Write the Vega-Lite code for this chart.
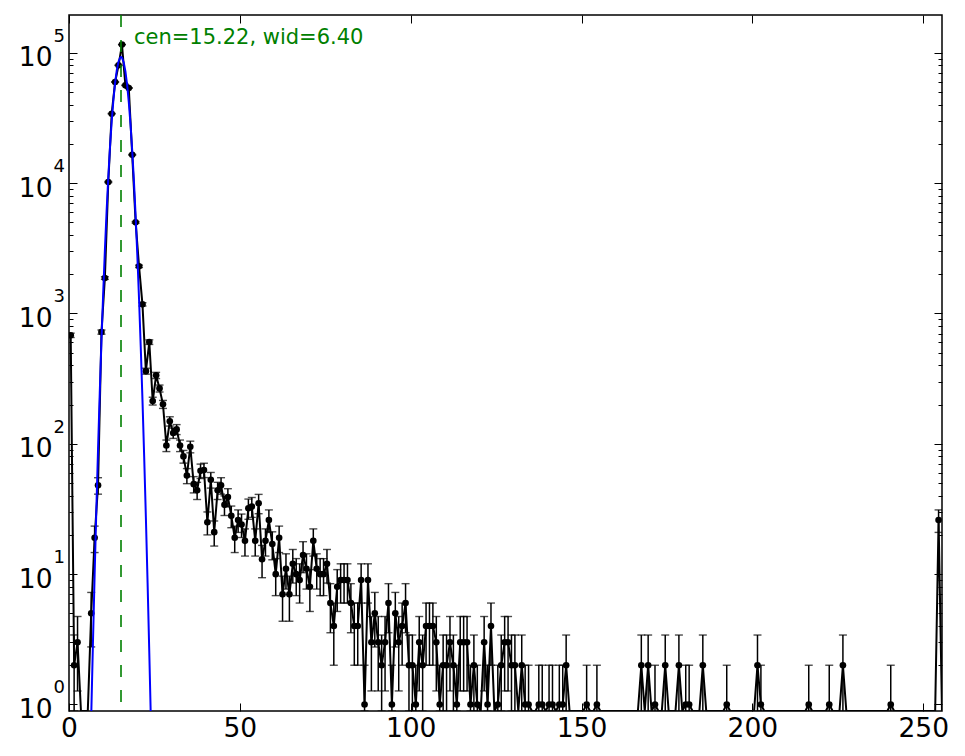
{
"$schema": "https://vega.github.io/schema/vega-lite/v6.json",
"autosize": {"type": "none"},
"padding": {"left": 69, "top": 15, "right": 23, "bottom": 45},
"width": 873,
"height": 696,
"background": "white",
"config": {"font": "DejaVu Sans", "view": {"stroke": "black", "strokeWidth": 1.5}, "axis": {"domain": false, "grid": false, "tickColor": "black", "tickWidth": 1, "labelColor": "black", "labelFont": "DejaVu Sans", "labelFontSize": 26.5, "title": null}},
"datasets": {
"counts": [
{"x":0.5,"y":680,"lo":653.92,"hi":706.08},{"x":1.5,"y":2,"lo":0.586,"hi":3.414},{"x":2.5,"y":3,"lo":1.268,"hi":4.732},{"x":3.5,"y":0},{"x":4.5,"y":0},{"x":5.5,"y":0},
{"x":6.5,"y":5,"lo":2.764,"hi":7.236},{"x":7.5,"y":19,"lo":14.641,"hi":23.359},{"x":8.5,"y":48,"lo":41.072,"hi":54.928},{"x":9.5,"y":720,"lo":693.17,"hi":746.83},
{"x":10.5,"y":1870,"lo":1826.76,"hi":1913.24},{"x":11.5,"y":10200,"lo":10099,"hi":10301},{"x":12.5,"y":34100,"lo":33915.3,"hi":34284.7},{"x":13.5,"y":59700,"lo":59455.7,"hi":59944.3},
{"x":14.5,"y":80200,"lo":79916.8,"hi":80483.2},{"x":15.5,"y":115600,"lo":115260,"hi":115940},{"x":16.5,"y":56300,"lo":56062.7,"hi":56537.3},{"x":17.5,"y":53700,"lo":53468.3,"hi":53931.7},
{"x":18.5,"y":16500,"lo":16371.5,"hi":16628.5},{"x":19.5,"y":5000,"lo":4929.3,"hi":5070.7},{"x":20.5,"y":2300,"lo":2252.04,"hi":2347.96},{"x":21.5,"y":1175,"lo":1140.72,"hi":1209.28},
{"x":22.5,"y":361,"lo":342,"hi":380},{"x":23.5,"y":603,"lo":578.44,"hi":627.56},{"x":24.5,"y":213,"lo":198.41,"hi":227.59},{"x":25.5,"y":335,"lo":316.7,"hi":353.3},
{"x":26.5,"y":266,"lo":249.69,"hi":282.31},{"x":27.5,"y":201,"lo":186.82,"hi":215.18},{"x":28.5,"y":97,"lo":87.15,"hi":106.85},{"x":29.5,"y":149,"lo":136.79,"hi":161.21},
{"x":30.5,"y":121,"lo":110,"hi":132},{"x":31.5,"y":129,"lo":117.64,"hi":140.36},{"x":32.5,"y":97,"lo":87.15,"hi":106.85},{"x":33.5,"y":80,"lo":71.06,"hi":88.94},
{"x":34.5,"y":57,"lo":49.45,"hi":64.55},{"x":35.5,"y":95,"lo":85.25,"hi":104.75},{"x":36.5,"y":49,"lo":42,"hi":56},{"x":37.5,"y":44,"lo":37.37,"hi":50.63},
{"x":38.5,"y":62,"lo":54.13,"hi":69.87},{"x":39.5,"y":63,"lo":55.06,"hi":70.94},{"x":40.5,"y":25,"lo":20,"hi":30},{"x":41.5,"y":53,"lo":45.72,"hi":60.28},
{"x":42.5,"y":21,"lo":16.42,"hi":25.58},{"x":43.5,"y":44,"lo":37.37,"hi":50.63},{"x":44.5,"y":48,"lo":41.07,"hi":54.93},{"x":45.5,"y":34,"lo":28.17,"hi":39.83},
{"x":46.5,"y":39,"lo":32.76,"hi":45.24},{"x":47.5,"y":28,"lo":22.71,"hi":33.29},{"x":48.5,"y":19,"lo":14.64,"hi":23.36},{"x":49.5,"y":26,"lo":20.9,"hi":31.1},
{"x":50.5,"y":24,"lo":19.1,"hi":28.9},{"x":51.5,"y":18,"lo":13.76,"hi":22.24},{"x":52.5,"y":32,"lo":26.34,"hi":37.66},{"x":53.5,"y":33,"lo":27.26,"hi":38.74},
{"x":54.5,"y":18,"lo":13.76,"hi":22.24},{"x":55.5,"y":35,"lo":29.08,"hi":40.92},{"x":56.5,"y":13,"lo":9.39,"hi":16.61},{"x":57.5,"y":18,"lo":13.76,"hi":22.24},
{"x":58.5,"y":26,"lo":20.9,"hi":31.1},{"x":59.5,"y":17,"lo":12.88,"hi":21.12},{"x":60.5,"y":10,"lo":6.84,"hi":13.16},{"x":61.5,"y":19,"lo":14.64,"hi":23.36},
{"x":62.5,"y":7,"lo":4.35,"hi":9.65},{"x":63.5,"y":11,"lo":7.68,"hi":14.32},{"x":64.5,"y":7,"lo":4.35,"hi":9.65},{"x":65.5,"y":12,"lo":8.54,"hi":15.46},
{"x":66.5,"y":10,"lo":6.84,"hi":13.16},{"x":67.5,"y":9,"lo":6,"hi":12},{"x":68.5,"y":14,"lo":10.26,"hi":17.74},{"x":69.5,"y":11,"lo":7.68,"hi":14.32},
{"x":70.5,"y":8,"lo":5.17,"hi":10.83},{"x":71.5,"y":18,"lo":13.76,"hi":22.24},{"x":72.5,"y":11,"lo":7.68,"hi":14.32},{"x":73.5,"y":10,"lo":6.84,"hi":13.16},
{"x":74.5,"y":10,"lo":6.84,"hi":13.16},{"x":75.5,"y":12,"lo":8.54,"hi":15.46},{"x":76.5,"y":6,"lo":3.55,"hi":8.45},{"x":77.5,"y":4,"lo":2,"hi":6},
{"x":78.5,"y":8,"lo":5.17,"hi":10.83},{"x":79.5,"y":9,"lo":6,"hi":12},{"x":80.5,"y":9,"lo":6,"hi":12},{"x":81.5,"y":9,"lo":6,"hi":12},
{"x":82.5,"y":6,"lo":3.55,"hi":8.45},{"x":83.5,"y":4,"lo":2,"hi":6},{"x":84.5,"y":4,"lo":2,"hi":6},{"x":85.5,"y":9,"lo":6,"hi":12},
{"x":86.5,"y":1,"lo":0,"hi":2},{"x":87.5,"y":9,"lo":6,"hi":12},{"x":88.5,"y":3,"lo":1.27,"hi":4.73},{"x":89.5,"y":5,"lo":2.76,"hi":7.24},
{"x":90.5,"y":3,"lo":1.27,"hi":4.73},{"x":91.5,"y":2,"lo":0.59,"hi":3.41},{"x":92.5,"y":3,"lo":1.27,"hi":4.73},{"x":93.5,"y":6,"lo":3.55,"hi":8.45},
{"x":94.5,"y":1,"lo":0,"hi":2},{"x":95.5,"y":5,"lo":2.76,"hi":7.24},{"x":96.5,"y":3,"lo":1.27,"hi":4.73},{"x":97.5,"y":4,"lo":2,"hi":6},
{"x":98.5,"y":6,"lo":3.55,"hi":8.45},{"x":99.5,"y":2,"lo":0.59,"hi":3.41},{"x":100.5,"y":2,"lo":0.59,"hi":3.41},{"x":101.5,"y":1,"lo":0,"hi":2},
{"x":102.5,"y":3,"lo":1.27,"hi":4.73},{"x":103.5,"y":2,"lo":0.59,"hi":3.41},{"x":104.5,"y":4,"lo":2,"hi":6},{"x":105.5,"y":4,"lo":2,"hi":6},
{"x":106.5,"y":4,"lo":2,"hi":6},{"x":107.5,"y":3,"lo":1.27,"hi":4.73},{"x":108.5,"y":1,"lo":0,"hi":2},{"x":109.5,"y":2,"lo":0.59,"hi":3.41},
{"x":110.5,"y":2,"lo":0.59,"hi":3.41},{"x":111.5,"y":3,"lo":1.27,"hi":4.73},{"x":112.5,"y":2,"lo":0.59,"hi":3.41},{"x":113.5,"y":1,"lo":0,"hi":2},
{"x":114.5,"y":3,"lo":1.27,"hi":4.73},{"x":115.5,"y":3,"lo":1.27,"hi":4.73},{"x":116.5,"y":3,"lo":1.27,"hi":4.73},{"x":117.5,"y":1,"lo":0,"hi":2},
{"x":118.5,"y":2,"lo":0.59,"hi":3.41},{"x":119.5,"y":1,"lo":0,"hi":2},{"x":120.5,"y":0},{"x":121.5,"y":3,"lo":1.27,"hi":4.73},
{"x":122.5,"y":1,"lo":0,"hi":2},{"x":123.5,"y":4,"lo":2,"hi":6},{"x":124.5,"y":0},{"x":125.5,"y":1,"lo":0,"hi":2},
{"x":126.5,"y":2,"lo":0.59,"hi":3.41},{"x":127.5,"y":3,"lo":1.27,"hi":4.73},{"x":128.5,"y":3,"lo":1.27,"hi":4.73},{"x":129.5,"y":2,"lo":0.59,"hi":3.41},
{"x":130.5,"y":2,"lo":0.59,"hi":3.41},{"x":131.5,"y":0},{"x":132.5,"y":2,"lo":0.59,"hi":3.41},{"x":133.5,"y":1,"lo":0,"hi":2},
{"x":134.5,"y":1,"lo":0,"hi":2},{"x":135.5,"y":0},{"x":136.5,"y":0},{"x":137.5,"y":1,"lo":0,"hi":2},
{"x":138.5,"y":1,"lo":0,"hi":2},{"x":139.5,"y":0},{"x":140.5,"y":1,"lo":0,"hi":2},{"x":141.5,"y":1,"lo":0,"hi":2},
{"x":142.5,"y":0},{"x":143.5,"y":1,"lo":0,"hi":2},{"x":144.5,"y":1,"lo":0,"hi":2},{"x":145.5,"y":2,"lo":0.59,"hi":3.41},
{"x":146.5,"y":0},{"x":147.5,"y":0},{"x":148.5,"y":0},{"x":149.5,"y":0},{"x":150.5,"y":0},
{"x":151.5,"y":1,"lo":0,"hi":2},{"x":152.5,"y":0},{"x":153.5,"y":0},{"x":154.5,"y":1,"lo":0,"hi":2},
{"x":155.5,"y":0},{"x":156.5,"y":0},{"x":157.5,"y":0},{"x":158.5,"y":0},{"x":159.5,"y":0},{"x":160.5,"y":0},
{"x":161.5,"y":0},{"x":162.5,"y":0},{"x":163.5,"y":0},{"x":164.5,"y":0},{"x":165.5,"y":0},{"x":166.5,"y":0},
{"x":167.5,"y":2,"lo":0.59,"hi":3.41},{"x":168.5,"y":0},{"x":169.5,"y":2,"lo":0.59,"hi":3.41},{"x":170.5,"y":0},
{"x":171.5,"y":1,"lo":0,"hi":2},{"x":172.5,"y":0},{"x":173.5,"y":0},{"x":174.5,"y":2,"lo":0.59,"hi":3.41},
{"x":175.5,"y":0},{"x":176.5,"y":0},{"x":177.5,"y":0},{"x":178.5,"y":2,"lo":0.59,"hi":3.41},{"x":179.5,"y":0},
{"x":180.5,"y":1,"lo":0,"hi":2},{"x":181.5,"y":1,"lo":0,"hi":2},{"x":182.5,"y":0},{"x":183.5,"y":0},{"x":184.5,"y":0},
{"x":185.5,"y":2,"lo":0.59,"hi":3.41},{"x":186.5,"y":0},{"x":187.5,"y":0},{"x":188.5,"y":0},{"x":189.5,"y":0},{"x":190.5,"y":0},{"x":191.5,"y":0},
{"x":192.5,"y":1,"lo":0,"hi":2},{"x":193.5,"y":0},{"x":194.5,"y":0},{"x":195.5,"y":0},{"x":196.5,"y":0},{"x":197.5,"y":0},{"x":198.5,"y":0},{"x":199.5,"y":0},{"x":200.5,"y":0},
{"x":201.5,"y":2,"lo":0.59,"hi":3.41},{"x":202.5,"y":1,"lo":0,"hi":2},
{"x":203.5,"y":0},{"x":204.5,"y":0},{"x":205.5,"y":0},{"x":206.5,"y":0},{"x":207.5,"y":0},{"x":208.5,"y":0},{"x":209.5,"y":0},
{"x":210.5,"y":0},{"x":211.5,"y":0},{"x":212.5,"y":0},{"x":213.5,"y":0},{"x":214.5,"y":0},{"x":215.5,"y":0},
{"x":216.5,"y":1,"lo":0,"hi":2},{"x":217.5,"y":0},{"x":218.5,"y":0},{"x":219.5,"y":0},{"x":220.5,"y":0},{"x":221.5,"y":0},
{"x":222.5,"y":1,"lo":0,"hi":2},{"x":223.5,"y":0},{"x":224.5,"y":0},{"x":225.5,"y":0},
{"x":226.5,"y":2,"lo":0.59,"hi":3.41},
{"x":227.5,"y":0},{"x":228.5,"y":0},{"x":229.5,"y":0},{"x":230.5,"y":0},{"x":231.5,"y":0},{"x":232.5,"y":0},{"x":233.5,"y":0},
{"x":234.5,"y":0},{"x":235.5,"y":0},{"x":236.5,"y":0},{"x":237.5,"y":0},{"x":238.5,"y":0},{"x":239.5,"y":0},
{"x":240.5,"y":1,"lo":0,"hi":2},
{"x":241.5,"y":0},{"x":242.5,"y":0},{"x":243.5,"y":0},{"x":244.5,"y":0},{"x":245.5,"y":0},{"x":246.5,"y":0},{"x":247.5,"y":0},
{"x":248.5,"y":0},{"x":249.5,"y":0},{"x":250.5,"y":0},{"x":251.5,"y":0},{"x":252.5,"y":0},{"x":253.5,"y":0},
{"x":254.5,"y":26,"lo":20.9,"hi":31.1},{"x":255.5,"y":0}
],
"fit": [
{"x":6.54,"y":0.891},{"x":7,"y":2.9},{"x":7.5,"y":9.89},{"x":8,"y":31.1},{"x":8.5,"y":90.6},{"x":9,"y":245},{"x":9.5,"y":612},
{"x":10,"y":1416},{"x":10.5,"y":3041},{"x":11,"y":6039},{"x":11.5,"y":11090},{"x":12,"y":18920},{"x":12.5,"y":29850},{"x":13,"y":43600},
{"x":13.5,"y":59020},{"x":14,"y":73930},{"x":14.5,"y":85810},{"x":15,"y":92220},{"x":15.22,"y":92900},{"x":15.5,"y":91790},{"x":16,"y":84630},
{"x":16.5,"y":72240},{"x":17,"y":57130},{"x":17.5,"y":41820},{"x":18,"y":28370},{"x":18.5,"y":17810},{"x":19,"y":10360},{"x":19.5,"y":5582},
{"x":20,"y":2784},{"x":20.5,"y":1286},{"x":21,"y":550.6},{"x":21.5,"y":218.3},{"x":22,"y":80},{"x":22.5,"y":27.2},{"x":23,"y":8.57},
{"x":23.5,"y":2.49},{"x":23.9,"y":0.891}
],
"marker": [{"cen": 15.22}],
"note": [{"x": 19.0, "y": 116000, "label": "cen=15.22, wid=6.40"}],
"exps": [{"v":1,"e":"0"},{"v":10,"e":"1"},{"v":100,"e":"2"},{"v":1000,"e":"3"},{"v":10000,"e":"4"},{"v":100000,"e":"5"}]
},
"layer": [
{"data": {"name": "counts"},
 "mark": {"type": "line", "color": "black", "strokeWidth": 2, "clip": true},
 "encoding": {
  "x": {"field": "x", "type": "quantitative", "scale": {"domain": [0, 255.5], "nice": false, "zero": false},
        "axis": {"orient": "bottom", "values": [0,50,100,150,200,250], "tickSize": -8, "labelPadding": 12, "labelFlush": false, "labelOverlap": false}},
  "y": {"field": "y", "type": "quantitative", "scale": {"type": "log", "domain": [0.891, 195000], "nice": false, "clamp": true},
        "axis": {"orient": "left", "values": [1,2,3,4,5,6,7,8,9,10,20,30,40,50,60,70,80,90,100,200,300,400,500,600,700,800,900,1000,2000,3000,4000,5000,6000,7000,8000,9000,10000,20000,30000,40000,50000,60000,70000,80000,90000,100000],
                 "labelExpr": "abs(log(datum.value)/LN10 - round(log(datum.value)/LN10)) < 0.001 ? '10' : ''",
                 "tickSize": {"condition": {"test": "abs(log(datum.value)/LN10 - round(log(datum.value)/LN10)) < 0.001", "value": -8}, "value": -4},
                 "labelPadding": 25, "labelOffset": 5, "labelOverlap": false}}
 }},
{"data": {"name": "counts"}, "transform": [{"filter": "datum.y > 0"}],
 "mark": {"type": "rule", "color": "black", "strokeWidth": 1.5, "clip": true},
 "encoding": {"x": {"field": "x", "type": "quantitative", "axis": null}, "y": {"field": "lo", "type": "quantitative", "axis": null}, "y2": {"field": "hi"}}},
{"data": {"name": "counts"}, "transform": [{"filter": "datum.y > 0"}],
 "mark": {"type": "tick", "orient": "horizontal", "color": "black", "size": 8, "thickness": 1.4, "clip": true},
 "encoding": {"x": {"field": "x", "type": "quantitative", "axis": null}, "y": {"field": "hi", "type": "quantitative", "axis": null}}},
{"data": {"name": "counts"}, "transform": [{"filter": "datum.y > 0"}],
 "mark": {"type": "tick", "orient": "horizontal", "color": "black", "size": 8, "thickness": 1.4, "clip": true},
 "encoding": {"x": {"field": "x", "type": "quantitative", "axis": null}, "y": {"field": "lo", "type": "quantitative", "axis": null}}},
{"data": {"name": "counts"}, "transform": [{"filter": "datum.y > 0"}],
 "mark": {"type": "point", "shape": "circle", "filled": true, "color": "black", "size": 44, "opacity": 1, "clip": true},
 "encoding": {"x": {"field": "x", "type": "quantitative", "axis": null}, "y": {"field": "y", "type": "quantitative", "axis": null}}},
{"data": {"name": "fit"},
 "mark": {"type": "line", "color": "#0000ff", "strokeWidth": 2, "clip": true},
 "encoding": {
  "x": {"field": "x", "type": "quantitative", "axis": {"orient": "top", "values": [0,50,100,150,200,250], "tickSize": -8, "labels": false}},
  "y": {"field": "y", "type": "quantitative", "axis": {"orient": "right", "values": [1,2,3,4,5,6,7,8,9,10,20,30,40,50,60,70,80,90,100,200,300,400,500,600,700,800,900,1000,2000,3000,4000,5000,6000,7000,8000,9000,10000,20000,30000,40000,50000,60000,70000,80000,90000,100000],
        "labels": false, "tickSize": {"condition": {"test": "abs(log(datum.value)/LN10 - round(log(datum.value)/LN10)) < 0.001", "value": -8}, "value": -4}}}
 }},
{"data": {"name": "marker"},
 "mark": {"type": "rule", "color": "#008000", "strokeWidth": 1.6, "strokeDash": [12, 13]},
 "encoding": {"x": {"field": "cen", "type": "quantitative", "axis": null}}},
{"data": {"name": "note"},
 "mark": {"type": "text", "color": "#008000", "fontSize": 21, "align": "left", "baseline": "alphabetic", "font": "DejaVu Sans"},
 "encoding": {"x": {"field": "x", "type": "quantitative", "axis": null}, "y": {"field": "y", "type": "quantitative", "axis": null}, "text": {"field": "label"}}},
{"data": {"name": "exps"},
 "mark": {"type": "text", "color": "black", "fontSize": 18, "align": "right", "baseline": "middle", "dx": -4, "dy": -16, "font": "DejaVu Sans"},
 "encoding": {"x": {"datum": 0, "type": "quantitative", "axis": null}, "y": {"field": "v", "type": "quantitative", "axis": null}, "text": {"field": "e"}}}
],
"resolve": {"axis": {"x": "independent", "y": "independent"}}
}
